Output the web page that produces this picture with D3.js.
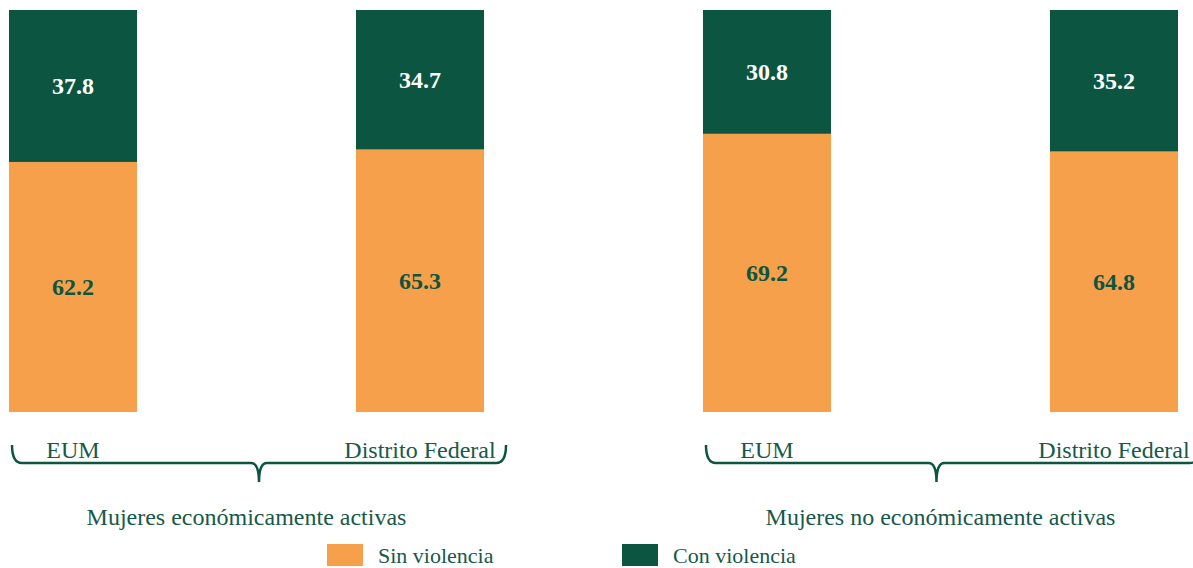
<!DOCTYPE html>
<html lang="es">
<head>
<meta charset="UTF-8" />
<title>Mujeres por condición de violencia</title>
<script src="https://d3js.org/d3.v7.min.js"></script>
<style>
    body { margin: 0; background: #fff; }
    svg { display: block; font-family: "Liberation Serif", "Times New Roman", serif; }
</style>
</head>
<body>
<svg id="chart" width="1193" height="568"></svg>
<script>
    // data
    const bars = ["g1-EUM", "g1-DF", "g2-EUM", "g2-DF"];
    const barLabels = ["EUM", "Distrito Federal", "EUM", "Distrito Federal"];
    const sinViolencia = [62.2, 65.3, 69.2, 64.8];
    const conViolencia = [37.8, 34.7, 30.8, 35.2];
    const groups = ["Mujeres económicamente activas", "Mujeres no económicamente activas"];
    const groupBars = [[0, 1], [2, 3]];
    const legendLabels = ["Sin violencia", "Con violencia"];

    const orange = "#f7a04b";
    const green = "#0c5541";
    const textGreen = "#17594a";

    const svg = d3.select("#chart");

    const x = d3.scaleBand()
        .domain(bars)
        .range([9, 1178])
        .paddingInner(0.631)
        .paddingOuter(0);

    const y = d3.scaleLinear()
        .domain([0, 100])
        .range([412, 10]);

    const rows = bars.map((b, i) => ({ key: b, sin: sinViolencia[i], con: conViolencia[i], label: barLabels[i] }));

    // bottom segment: sin violencia
    svg.selectAll("rect.sin")
        .data(rows)
        .join("rect")
        .attr("class", "sin")
        .attr("x", d => x(d.key))
        .attr("width", x.bandwidth())
        .attr("y", d => y(d.sin))
        .attr("height", d => y(0) - y(d.sin))
        .attr("fill", orange);

    // top segment: con violencia
    svg.selectAll("rect.con")
        .data(rows)
        .join("rect")
        .attr("class", "con")
        .attr("x", d => x(d.key))
        .attr("width", x.bandwidth())
        .attr("y", d => y(d.sin + d.con))
        .attr("height", d => y(d.sin) - y(d.sin + d.con))
        .attr("fill", green);

    // value labels
    svg.selectAll("text.vsin")
        .data(rows)
        .join("text")
        .attr("x", d => x(d.key) + x.bandwidth() / 2)
        .attr("y", d => (y(0) + y(d.sin)) / 2)
        .attr("dy", "0.35em")
        .attr("text-anchor", "middle")
        .attr("font-weight", "bold")
        .attr("font-size", 24)
        .attr("fill", green)
        .text(d => d.sin.toFixed(1));

    svg.selectAll("text.vcon")
        .data(rows)
        .join("text")
        .attr("x", d => x(d.key) + x.bandwidth() / 2)
        .attr("y", d => (y(d.sin) + y(d.sin + d.con)) / 2)
        .attr("dy", "0.35em")
        .attr("text-anchor", "middle")
        .attr("font-weight", "bold")
        .attr("font-size", 24)
        .attr("fill", "#fff")
        .text(d => d.con.toFixed(1));

    // category labels under bars
    svg.selectAll("text.cat")
        .data(rows)
        .join("text")
        .attr("x", d => x(d.key) + x.bandwidth() / 2)
        .attr("y", 458)
        .attr("text-anchor", "middle")
        .attr("font-size", 24)
        .attr("fill", textGreen)
        .text(d => d.label);

    // braces + group titles
    const braceTop = 445, braceY = 463, braceTip = 482;
    groupBars.forEach((idx, g) => {
        const first = bars[idx[0]], last = bars[idx[idx.length - 1]];
        const x0 = x(first) + 3;
        const x1 = x(last) + x.bandwidth() + 22;
        const center = (x(first) + x(last) + x.bandwidth()) / 2;
        const tip = g === 0 ? (x0 + x1) / 2 : center - 4;
        const p = d3.path();
        p.moveTo(x0, braceTop);
        p.quadraticCurveTo(x0, braceY, x0 + 10, braceY);
        p.lineTo(tip - 8, braceY);
        p.quadraticCurveTo(tip, braceY, tip, braceTip);
        p.quadraticCurveTo(tip, braceY, tip + 8, braceY);
        p.lineTo(x1 - 10, braceY);
        p.quadraticCurveTo(x1, braceY, x1, braceTop);
        svg.append("path")
            .attr("d", p.toString())
            .attr("fill", "none")
            .attr("stroke", green)
            .attr("stroke-width", 2.5);

        svg.append("text")
            .attr("x", center)
            .attr("y", 525)
            .attr("text-anchor", "middle")
            .attr("font-size", 24)
            .attr("fill", textGreen)
            .text(groups[g]);
    });

    // legend
    const legendX = [327, 622];
    const legendColors = [orange, green];
    legendLabels.forEach((l, i) => {
        svg.append("rect")
            .attr("x", legendX[i])
            .attr("y", 544)
            .attr("width", 36)
            .attr("height", 22)
            .attr("fill", legendColors[i]);
        svg.append("text")
            .attr("x", legendX[i] + 51)
            .attr("y", 563)
            .attr("font-size", 22)
            .attr("fill", textGreen)
            .text(l);
    });
</script>
</body>
</html>
